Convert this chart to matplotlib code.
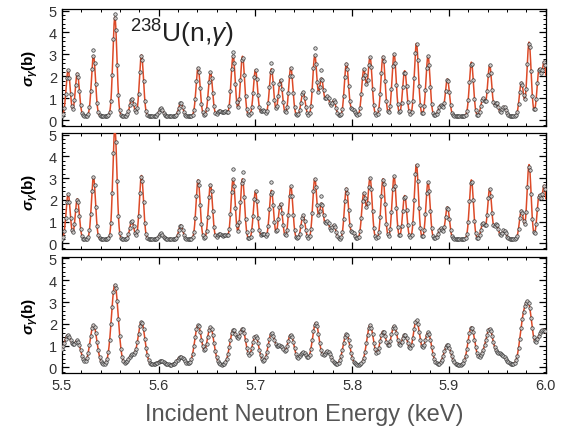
import numpy as np
import matplotlib.pyplot as plt
from matplotlib.ticker import MultipleLocator

plt.rcParams['font.family'] = ['Liberation Sans', 'DejaVu Sans']
plt.rcParams['mathtext.fontset'] = 'custom'
plt.rcParams['mathtext.rm'] = 'Liberation Sans'
plt.rcParams['mathtext.it'] = 'Liberation Sans:italic'
plt.rcParams['mathtext.bf'] = 'Liberation Sans:bold:italic'

# resonance energies (keV)
res_E = [5.5065, 5.516, 5.5327, 5.5548, 5.5723, 5.5823, 5.6026, 5.6229,
         5.6408, 5.6536, 5.663, 5.669, 5.677, 5.6867, 5.7001, 5.708,
         5.7166, 5.7259, 5.7366, 5.7493, 5.7614, 5.7683, 5.7745, 5.781,
         5.7941, 5.8006, 5.812, 5.8185, 5.8319, 5.8433, 5.8543, 5.8664,
         5.8784, 5.8912, 5.8984, 5.9232, 5.9352, 5.9421, 5.9491, 5.9569,
         5.9749, 5.9828, 5.9931, 5.9985]
# peak cross sections (b), panel 1
peak_top = [2.3, 2.15, 2.95, 4.7, 1.0, 2.98, 0.55, 0.8,
            2.4, 2.2, 0.45, 0.4, 2.95, 2.92, 2.3, 0.45,
            2.35, 1.85, 2.4, 1.3, 2.95, 1.9, 1.1, 0.9,
            2.6, 0.5, 2.3, 2.87, 2.92, 3.03, 2.26, 3.5,
            2.92, 0.7, 1.88, 2.65, 1.0, 2.5, 0.8, 0.63,
            1.73, 3.56, 2.26, 2.6]
# peak cross sections (b), panel 2
peak_mid = [2.28, 2.05, 3.05, 5.3, 1.04, 3.12, 0.46, 0.84,
            2.92, 2.71, 0.45, 0.4, 2.97, 2.97, 2.39, 0.45,
            2.44, 1.83, 2.62, 1.3, 2.97, 1.83, 0.99, 0.84,
            2.54, 0.5, 2.31, 3.0, 2.97, 3.08, 2.2, 3.62,
            2.82, 0.69, 1.68, 2.92, 0.95, 2.51, 0.89, 0.61,
            1.52, 3.62, 2.13, 2.59]
# broadened spectrum, panel 3
res_E_bot = [5.4995, 5.5065, 5.516, 5.5327, 5.5548, 5.5723, 5.5823, 5.6026,
             5.6229, 5.6408, 5.6536, 5.677, 5.6867, 5.7001, 5.7166, 5.7259,
             5.7366, 5.7493, 5.7624, 5.7745, 5.7941, 5.8185, 5.8319, 5.8433,
             5.8543, 5.8664, 5.8784, 5.8984, 5.9232, 5.9352, 5.9421, 5.9507,
             5.9569, 5.9766, 5.9828, 5.9931, 5.9995]
peak_bot = [0.6, 1.4, 1.2, 1.95, 3.8, 0.55, 2.1, 0.3,
            0.5, 1.95, 1.85, 1.7, 1.75, 1.45, 1.55, 0.95,
            1.5, 0.7, 2.05, 0.75, 1.55, 1.95, 1.65, 1.9,
            1.5, 2.15, 1.6, 1.05, 1.85, 0.55, 1.7, 0.55,
            0.4, 1.95, 2.5, 1.2, 1.45]

# a few data points sitting above the fitted curve
extra_top_E = [5.5327, 5.5548, 5.677, 5.7166, 5.7614, 5.7683]
extra_top_s = [3.2, 4.85, 3.1, 2.6, 3.3, 2.3]
extra_mid_E = [5.677, 5.6867, 5.7166, 5.7683]
extra_mid_s = [3.4, 3.3, 2.8, 2.2]

E_grid = np.linspace(5.5, 6.0, 2001)
E_data = np.arange(5.5, 6.0005, 0.0013)


def spectrum(E, centers, tops, base, width):
    y = np.full_like(E, base)
    for c, t in zip(centers, tops):
        y += (t - base) * np.exp(-0.5 * ((E - c) / width) ** 2)
    return y


panels = [
    (res_E, peak_top, 0.2, 0.0021, extra_top_E, extra_top_s),
    (res_E, peak_mid, 0.2, 0.0021, extra_mid_E, extra_mid_s),
    (res_E_bot, peak_bot, 0.12, 0.0035, [], []),
]

fig = plt.figure(figsize=(5.62, 4.35), dpi=100)
rects = [[0.110, 0.708, 0.861, 0.269],
         [0.110, 0.425, 0.861, 0.267],
         [0.110, 0.140, 0.861, 0.267]]

dot = dict(ls='none', marker='o', ms=2.5, mfc='#cfcfcf', mec='#262626',
           mew=0.5, alpha=0.9, zorder=4)

for i, (cen, tops, base, w, xE, xs) in enumerate(panels):
    ax = fig.add_axes(rects[i])
    ax.plot(E_grid, spectrum(E_grid, cen, tops, base, w), color='#dc4a28',
            lw=1.1, zorder=3)
    ax.plot(E_data, spectrum(E_data, cen, tops, base, w), **dot)
    if xE:
        ax.plot(xE, xs, **dot)
    ax.set_xlim(5.5, 6.0)
    ax.set_ylim(-0.26, 5.07)
    ax.xaxis.set_major_locator(MultipleLocator(0.1))
    ax.xaxis.set_minor_locator(MultipleLocator(0.02))
    ax.yaxis.set_major_locator(MultipleLocator(1))
    ax.yaxis.set_minor_locator(MultipleLocator(0.2))
    ax.tick_params(which='both', direction='in', top=True, right=True,
                   labelsize=10.5, labelcolor='#333333')
    ax.tick_params(which='major', length=5, width=0.9)
    ax.tick_params(which='minor', length=2.5, width=0.7)
    for s in ax.spines.values():
        s.set_linewidth(0.9)
    ax.set_ylabel(r'$\mathbf{\sigma_\gamma}$(b)', fontsize=11,
                  fontweight='bold', labelpad=6)
    if i < 2:
        ax.set_xticklabels([])
    else:
        ax.xaxis.set_major_formatter(plt.FuncFormatter(lambda v, p: f'{v:.1f}'))
        ax.set_xlabel('Incident Neutron Energy (keV)', fontsize=17,
                      color='#555555', labelpad=8)
    if i == 0:
        ax.text(0.14, 0.72, r'$^{238}$U(n,$\gamma$)', transform=ax.transAxes,
                fontsize=19, va='baseline', color='#222222')

fig.savefig('out.png', dpi=100)
